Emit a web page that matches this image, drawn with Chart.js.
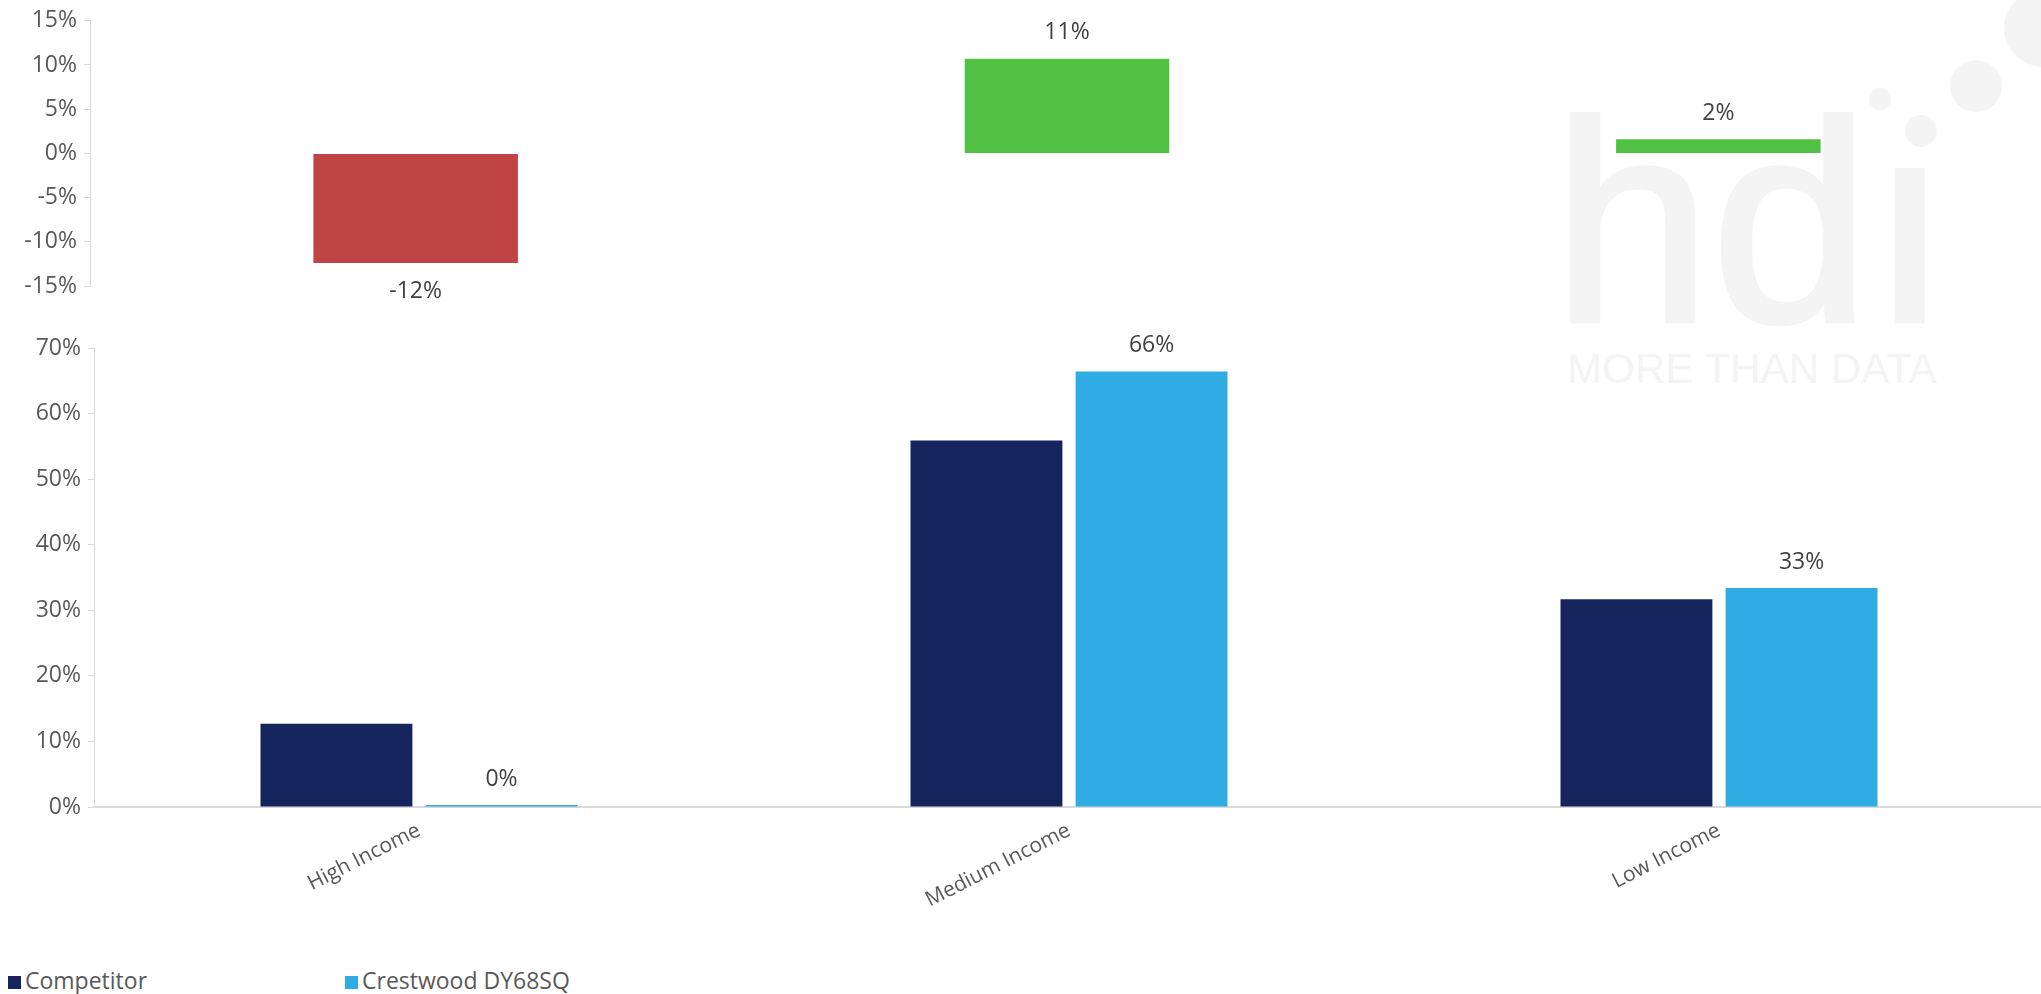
<!DOCTYPE html>
<html>
<head>
<meta charset="UTF-8">
<title>Income groups</title>
<script src="https://cdn.jsdelivr.net/npm/chart.js@4.4.1/dist/chart.umd.min.js"></script>
<style>
    html, body { margin: 0; padding: 0; background: #fff; }
    #wrap { position: relative; width: 2041px; height: 994px; overflow: hidden; font-family: "Open Sans", sans-serif; }
    .mark { position: absolute; color: #f4f4f4; font-family: "Liberation Sans", Arial, sans-serif; line-height: 1; white-space: nowrap; }
    .dot { position: absolute; background: #f4f4f4; border-radius: 50%; }
    canvas { position: absolute; left: 0; }
    #legend { position: absolute; left: 8px; top: 966px; height: 28px; }
    .item { position: absolute; top: 0; white-space: nowrap; font-size: 23px; color: #595959; line-height: 28px; }
    .box { display: inline-block; width: 13px; height: 13px; margin-right: 4px; vertical-align: 0px; }
</style>
</head>
<body>
<div id="wrap">
    <!-- marca d'agua -->
    <div class="mark" style="left:1553px; top:80px; font-size:285px; -webkit-text-stroke:5px #f4f4f4;">hdı</div>
    <div class="mark" style="left:1567px; top:347px; font-size:43px; transform:scaleX(0.98); transform-origin:left top;">MORE THAN DATA</div>
    <div class="dot" style="left:1905px; top:115px; width:32px; height:32px;"></div>
    <div class="dot" style="left:1869px; top:88px; width:22px; height:22px;"></div>
    <div class="dot" style="left:1950px; top:60px; width:52px; height:52px;"></div>
    <div class="dot" style="left:2004px; top:-11px; width:78px; height:78px;"></div>

    <canvas id="graficoDiferenca" width="2044" height="310" style="top:0px;"></canvas>
    <canvas id="graficoRenda" width="2044" height="620" style="top:310px;"></canvas>
    <div id="legend"></div>
</div>

<script>
    // dados
    var categorias = ["High Income", "Medium Income", "Low Income"];
    var nomesSeries = ["Competitor", "Crestwood DY68SQ"];
    var competitor = [12.7, 55.9, 31.7];
    var crestwood = [0.3, 66.4, 33.4];
    var diferenca = [-12.4, 10.7, 1.6];
    var escalaTopo = [-15, 15, 5];    // min, max, passo
    var escalaBaixo = [0, 70, 10];

    var corCompetitor = "#16245E";
    var corCrestwood = "#2FACE3";
    var corNegativo = "#C04446";
    var corPositivo = "#51C143";
    var corTexto = "#595959";
    var corEixo = "#d9d9d9";

    // rotulos de valor em cima / embaixo das barras
    var rotulos = {
        id: "rotulos",
        afterDatasetsDraw: function(chart) {
            var ctx = chart.ctx;
            ctx.save();
            ctx.font = '23px "Open Sans"';
            ctx.fillStyle = "#404040";
            ctx.textAlign = "center";
            ctx.textBaseline = "middle";
            chart.data.datasets.forEach(function(ds, i) {
                if (!ds.mostrarRotulo) return;
                chart.getDatasetMeta(i).data.forEach(function(bar, j) {
                    var v = ds.data[j];
                    var y = v < 0 ? bar.y + 28 : bar.y - 26;
                    ctx.fillText(Math.round(v) + "%", bar.x, y);
                });
            });
            ctx.restore();
        }
    };

    function eixoY(faixa, largura) {
        return {
            min: faixa[0],
            max: faixa[1],
            afterFit: function(s) { s.width = largura; },
            ticks: {
                stepSize: faixa[2],
                padding: 7,
                color: corTexto,
                font: { family: "Open Sans", size: 23 },
                callback: function(v) { return v + "%"; }
            },
            grid: { display: true, drawOnChartArea: false, drawTicks: true, tickLength: 6, color: corEixo },
            border: { display: true, color: corEixo }
        };
    }

    // Grafico de diferenca (topo)
    new Chart(document.getElementById("graficoDiferenca").getContext("2d"), {
        type: "bar",
        data: {
            labels: categorias,
            datasets: [{
                label: "Difference",
                data: diferenca,
                backgroundColor: diferenca.map(function(v) { return v < 0 ? corNegativo : corPositivo; }),
                categoryPercentage: 1,
                barPercentage: 0.314,
                mostrarRotulo: true
            }]
        },
        options: {
            responsive: false,
            animation: false,
            layout: { padding: { top: 18, bottom: 24, left: 0, right: 0 } },
            scales: {
                x: { display: false },
                y: eixoY(escalaTopo, 90)
            },
            plugins: { legend: { display: false }, tooltip: { enabled: false } }
        },
        plugins: [rotulos]
    });

    // Grafico de renda (baixo)
    new Chart(document.getElementById("graficoRenda").getContext("2d"), {
        type: "bar",
        data: {
            labels: categorias,
            datasets: [
                { label: nomesSeries[0], data: competitor, backgroundColor: corCompetitor,
                  categoryPercentage: 0.508, barPercentage: 0.92, mostrarRotulo: false },
                { label: nomesSeries[1], data: crestwood, backgroundColor: corCrestwood,
                  categoryPercentage: 0.508, barPercentage: 0.92, mostrarRotulo: true }
            ]
        },
        options: {
            responsive: false,
            animation: false,
            layout: { padding: { top: 38, bottom: 0, left: 0, right: 0 } },
            scales: {
                x: {
                    afterFit: function(s) { s.height = 123; },
                    ticks: {
                        autoSkip: false,
                        minRotation: 27,
                        maxRotation: 27,
                        padding: 11,
                        color: corTexto,
                        font: { family: "Open Sans", size: 21 }
                    },
                    grid: { display: false, drawTicks: false },
                    border: { display: true, color: corEixo, width: 2 }
                },
                y: eixoY(escalaBaixo, 94)
            },
            plugins: { legend: { display: false }, tooltip: { enabled: false } }
        },
        plugins: [rotulos]
    });

    // legenda
    var cores = [corCompetitor, corCrestwood];
    var legenda = document.getElementById("legend");
    nomesSeries.forEach(function(nome, i) {
        var item = document.createElement("div");
        item.className = "item";
        item.style.left = (i * 337) + "px";
        item.innerHTML = '<span class="box" style="background:' + cores[i] + '"></span>' + nome;
        legenda.appendChild(item);
    });
</script>
</body>
</html>
